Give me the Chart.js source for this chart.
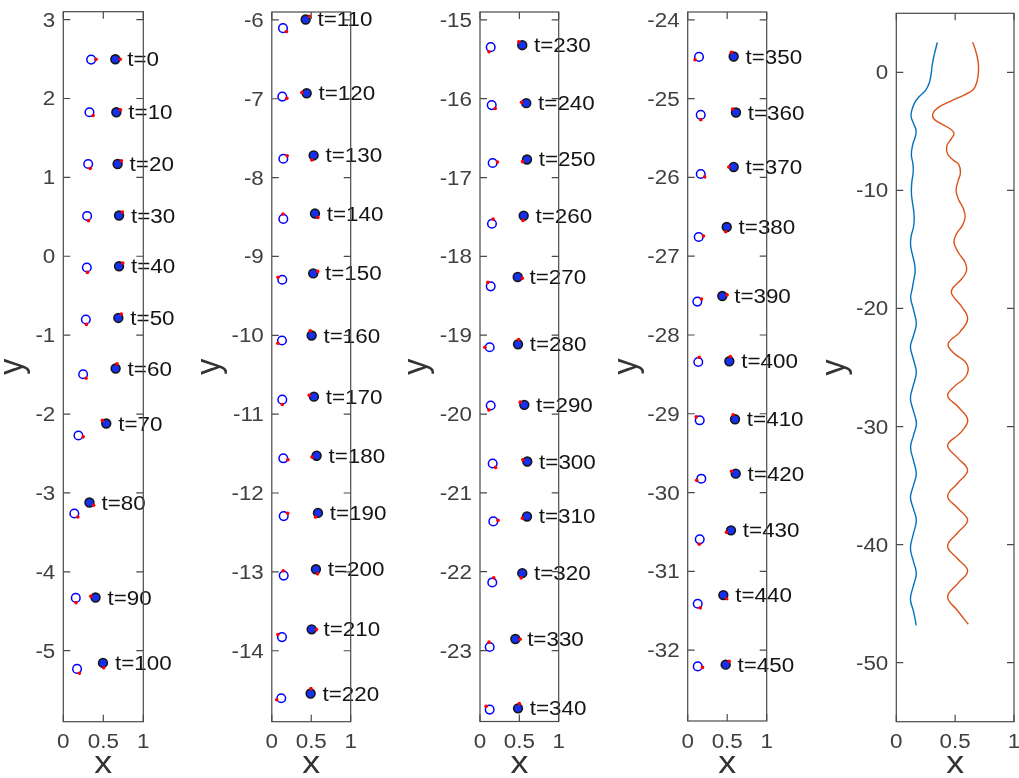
<!DOCTYPE html>
<html>
<head>
<meta charset="utf-8">
<title>Particle pair snapshots and trajectories</title>
<script src="https://cdn.jsdelivr.net/npm/chart.js@4.4.1/dist/chart.umd.min.js"></script>
<style>
  html, body { margin: 0; padding: 0; background: #ffffff; overflow: hidden; }
  #wrap { position: relative; width: 1019px; height: 778px; }
  #wrap canvas { position: absolute; left: 0; top: 0; }
</style>
</head>
<body>
<div id="wrap">
  <canvas id="snap1" width="1019" height="778"></canvas>
  <canvas id="snap2" width="1019" height="778"></canvas>
  <canvas id="snap3" width="1019" height="778"></canvas>
  <canvas id="snap4" width="1019" height="778"></canvas>
  <canvas id="trails" width="1019" height="778"></canvas>
</div>
<script>
// ---------- data ----------
const times = [0, 10, 20, 30, 40, 50, 60, 70, 80, 90, 100,
  110, 120, 130, 140, 150, 160, 170, 180, 190, 200, 210, 220,
  230, 240, 250, 260, 270, 280, 290, 300, 310, 320, 330, 340,
  350, 360, 370, 380, 390, 400, 410, 420, 430, 440, 450];

// hollow particle (left) centre and orientation marker angle (deg)
const hollowX = [0.348, 0.327, 0.311, 0.298, 0.294, 0.282, 0.248, 0.189, 0.138, 0.156, 0.172,
  0.142, 0.133, 0.146, 0.146, 0.133, 0.129, 0.133, 0.146, 0.151, 0.151, 0.129, 0.120,
  0.136, 0.149, 0.161, 0.152, 0.136, 0.123, 0.136, 0.161, 0.169, 0.156, 0.123, 0.123,
  0.143, 0.165, 0.165, 0.139, 0.122, 0.134, 0.152, 0.172, 0.152, 0.127, 0.127];
const hollowY = [2.493, 1.825, 1.170, 0.511, -0.143, -0.802, -1.496, -2.272, -3.261, -4.331, -5.231,
  -6.105, -6.973, -7.761, -8.524, -9.295, -10.066, -10.816, -11.560, -12.293, -13.047, -13.827, -14.602,
  -15.346, -16.081, -16.816, -17.586, -18.380, -19.153, -19.892, -20.627, -21.362, -22.136, -22.955, -23.749,
  -24.470, -25.206, -25.956, -26.756, -27.576, -28.343, -29.083, -29.824, -30.594, -31.411, -32.207];
const hollowAngle = [3, -42, -66, -74, -83, -83, -54, -16, -45, -87, -63,
  -45, -21, 37, 94, 150, -147, -90, -17, 35, 95, 147, -161,
  -110, -43, 12, 76, 126, 180, -113, -53, 12, 73, 98, 136,
  -145, -90, -37, 11, 33, 79, 136, -160, -95, -59, -12];

// solid particle (right) centre and orientation marker angle (deg)
const solidX = [0.650, 0.663, 0.679, 0.697, 0.697, 0.688, 0.654, 0.537, 0.327, 0.403, 0.496,
  0.429, 0.442, 0.530, 0.547, 0.525, 0.505, 0.534, 0.568, 0.585, 0.559, 0.505, 0.492,
  0.537, 0.588, 0.597, 0.555, 0.479, 0.483, 0.563, 0.601, 0.597, 0.537, 0.449, 0.483,
  0.582, 0.611, 0.582, 0.494, 0.438, 0.527, 0.599, 0.608, 0.548, 0.451, 0.481];
const solidY = [2.497, 1.825, 1.170, 0.516, -0.127, -0.782, -1.423, -2.120, -3.122, -4.326, -5.155,
  -5.995, -6.931, -7.719, -8.456, -9.215, -10.003, -10.778, -11.527, -12.252, -12.967, -13.729, -14.543,
  -15.321, -16.056, -16.771, -17.484, -18.261, -19.115, -19.883, -20.602, -21.299, -22.018, -22.854, -23.733,
  -24.465, -25.176, -25.867, -26.629, -27.505, -28.334, -29.070, -29.760, -30.480, -31.302, -32.185];
const solidAngle = [0, 32, 40, 47, 42, 53, 73, 141, -34, 166, -83,
  40, 172, -112, -53, 24, 107, 164, -164, -120, -70, -3, 86,
  135, 169, -154, -98, -15, 82, 147, 158, -158, -104, -3, 75,
  118, 133, 180, -102, 13, 78, 113, 150, -158, -47, 45];

// full trajectories
const trailHollowX = [0.348, 0.335, 0.318, 0.305, 0.295, 0.280, 0.250, 0.200, 0.160, 0.135, 0.125,
  0.145, 0.168, 0.160, 0.140, 0.128, 0.142, 0.143, 0.132, 0.128, 0.134, 0.146, 0.152, 0.146,
  0.126, 0.121, 0.136, 0.155, 0.160, 0.148, 0.134, 0.122, 0.146, 0.170, 0.146, 0.120, 0.145,
  0.170, 0.145, 0.120, 0.146, 0.171, 0.146, 0.121, 0.145, 0.170, 0.145, 0.120, 0.145, 0.170,
  0.145, 0.120, 0.145, 0.170, 0.145, 0.120, 0.147, 0.170];
const trailHollowY = [2.54, 2.0, 1.3, 0.6, -0.2, -0.9, -1.5, -2.0, -2.5, -3.1, -3.7,
  -4.3, -4.9, -5.5, -6.1, -7.0, -7.8, -8.5, -9.3, -10.1, -10.8, -11.6, -12.4, -13.1,
  -13.9, -14.6, -15.4, -16.2, -16.9, -17.6, -18.4, -19.1, -20.1, -21.3, -22.3, -23.25, -24.3,
  -25.4, -26.5, -27.6, -28.7, -29.75, -30.75, -31.75, -32.85, -34.0, -35.0, -36.0, -36.95, -37.95,
  -39.1, -40.3, -41.4, -42.45, -43.5, -44.6, -45.7, -46.85];
const trailSolidX = [0.649, 0.675, 0.695, 0.698, 0.685, 0.655, 0.580, 0.460, 0.360, 0.310, 0.320,
  0.380, 0.460, 0.490, 0.470, 0.430, 0.435, 0.480, 0.530, 0.545, 0.525, 0.508, 0.530, 0.568,
  0.585, 0.560, 0.510, 0.490, 0.530, 0.585, 0.597, 0.555, 0.478, 0.472, 0.560, 0.606, 0.540,
  0.440, 0.490, 0.585, 0.611, 0.580, 0.494, 0.436, 0.527, 0.607, 0.548, 0.436, 0.521, 0.606,
  0.521, 0.436, 0.521, 0.606, 0.521, 0.436, 0.521, 0.606, 0.521, 0.436, 0.521, 0.612];
const trailSolidY = [2.54, 1.8, 0.9, 0.0, -0.8, -1.45, -1.9, -2.45, -2.95, -3.5, -3.95,
  -4.35, -4.8, -5.15, -5.6, -6.2, -6.9, -7.4, -7.8, -8.5, -9.2, -10.0, -10.8, -11.5,
  -12.25, -13.0, -13.7, -14.4, -15.3, -16.1, -16.8, -17.5, -18.3, -18.8, -19.9, -20.9, -22.0,
  -23.0, -23.8, -24.5, -25.2, -25.9, -26.6, -27.4, -28.35, -29.45, -30.5, -31.6, -32.65, -33.7,
  -34.8, -35.9, -36.9, -37.94, -39.0, -40.14, -41.2, -42.23, -43.3, -44.44, -45.6, -46.75];

// snapshot panels: time span, y limits and y tick values
const panelFirstT = [0, 110, 230, 350];
const panelLastT = [100, 220, 340, 450];
const panelYMin = [-5.9, -14.9, -23.9, -32.9];
const panelYMax = [3.1, -5.9, -14.9, -23.9];
const panelYTicks = [
  [3, 2, 1, 0, -1, -2, -3, -4, -5],
  [-6, -7, -8, -9, -10, -11, -12, -13, -14],
  [-15, -16, -17, -18, -19, -20, -21, -22, -23],
  [-24, -25, -26, -27, -28, -29, -30, -31, -32]
];
const trailYMin = -55, trailYMax = 5;
const trailYTicks = [0, -10, -20, -30, -40, -50];
const xTickValues = [0, 0.5, 1];
const xTickLabels = ['0', '0.5', '1'];

// ---------- layout & style ----------
const W = 1019, H = 778;
const FONT = '"Liberation Sans", Arial, Helvetica, sans-serif';
const SX = 1.12;          // horizontal stretch applied to all text
const TICK = 7;           // inward tick length (px)
const MARK_R = 0.062;     // distance of orientation marker from centre (data units)
const LABEL_DX = 0.15;    // time label offset to the right of the solid particle (data units)
const boxes = [
  { l: 63.3, r: 143.3, t: 11.7, b: 721.7, ylab: 23 },
  { l: 271.8, r: 350.7, t: 12.0, b: 721.7, ylab: 220 },
  { l: 480.0, r: 558.7, t: 12.0, b: 721.5, ylab: 427 },
  { l: 687.7, r: 766.7, t: 12.0, b: 721.0, ylab: 637 },
  { l: 896.3, r: 1014.0, t: 13.3, b: 721.7, ylab: 845 }
];

function drawText(ctx, text, x, y, align, rotated) {
  ctx.save();
  ctx.translate(x, y);
  ctx.scale(SX, 1);
  if (rotated) ctx.rotate(-Math.PI / 2);
  ctx.textAlign = align;
  ctx.textBaseline = 'alphabetic';
  ctx.fillText(text, 0, 0);
  ctx.restore();
}

// Box, inward ticks, tick labels, axis titles and time labels
function axesDecor(box, yTicks, timeLabels) {
  return {
    id: 'axesDecor',
    afterDatasetsDraw(chart) {
      if (!timeLabels) return;
      const ctx = chart.ctx, xs = chart.scales.x, ys = chart.scales.y;
      ctx.save();
      ctx.fillStyle = '#141414';
      ctx.font = '20px ' + FONT;
      timeLabels.forEach(l => {
        drawText(ctx, l.text, xs.getPixelForValue(l.x + LABEL_DX), ys.getPixelForValue(l.y) + 7, 'left');
      });
      ctx.restore();
    },
    afterDraw(chart) {
      const ctx = chart.ctx, a = chart.chartArea, xs = chart.scales.x, ys = chart.scales.y;
      ctx.save();
      ctx.strokeStyle = '#4a4a4a';
      ctx.lineWidth = 1.2;
      ctx.strokeRect(a.left, a.top, a.right - a.left, a.bottom - a.top);
      ctx.beginPath();
      yTicks.forEach(v => {
        const y = ys.getPixelForValue(v);
        ctx.moveTo(a.left, y); ctx.lineTo(a.left + TICK, y);
        ctx.moveTo(a.right, y); ctx.lineTo(a.right - TICK, y);
      });
      xTickValues.forEach(v => {
        const x = xs.getPixelForValue(v);
        ctx.moveTo(x, a.top); ctx.lineTo(x, a.top + TICK);
        ctx.moveTo(x, a.bottom); ctx.lineTo(x, a.bottom - TICK);
      });
      ctx.stroke();

      ctx.fillStyle = '#404040';
      ctx.font = '20px ' + FONT;
      yTicks.forEach(v => {
        drawText(ctx, String(v), a.left - 8, ys.getPixelForValue(v) + 7, 'right');
      });
      xTickValues.forEach((v, i) => {
        drawText(ctx, xTickLabels[i], xs.getPixelForValue(v), a.bottom + 26.5, 'center');
      });

      ctx.fillStyle = '#333333';
      ctx.font = '32px ' + FONT;
      drawText(ctx, 'x', (a.left + a.right) / 2, 773, 'center');
      drawText(ctx, 'y', box.ylab, (a.top + a.bottom) / 2, 'center', true);
      ctx.restore();
    }
  };
}

function baseOptions(box, yMin, yMax) {
  return {
    responsive: false,
    animation: false,
    events: [],
    layout: { padding: { left: box.l, top: box.t, right: W - box.r, bottom: H - box.b } },
    scales: {
      x: { type: 'linear', min: 0, max: 1, display: false },
      y: { type: 'linear', min: yMin, max: yMax, display: false }
    },
    plugins: { legend: { display: false }, tooltip: { enabled: false } }
  };
}

function marker(cx, cy, deg) {
  const r = deg * Math.PI / 180;
  return { x: cx + MARK_R * Math.cos(r), y: cy + MARK_R * Math.sin(r) };
}

// ---------- snapshot panels ----------
panelFirstT.forEach((t0, p) => {
  const idx = times.map((t, i) => i).filter(i => times[i] >= t0 && times[i] <= panelLastT[p]);
  const hollow = idx.map(i => ({ x: hollowX[i], y: hollowY[i] }));
  const solid = idx.map(i => ({ x: solidX[i], y: solidY[i] }));
  const hollowMarks = idx.map(i => marker(hollowX[i], hollowY[i], hollowAngle[i]));
  const solidMarks = idx.map(i => marker(solidX[i], solidY[i], solidAngle[i]));
  const labels = idx.map(i => ({ x: solidX[i], y: solidY[i], text: 't=' + times[i] }));

  new Chart(document.getElementById('snap' + (p + 1)), {
    type: 'scatter',
    data: {
      datasets: [
        { data: hollowMarks, pointRadius: 1.8, pointBorderWidth: 0, backgroundColor: '#ff0000', borderColor: '#ff0000', order: 0 },
        { data: solidMarks, pointRadius: 1.8, pointBorderWidth: 0, backgroundColor: '#ff0000', borderColor: '#ff0000', order: 0 },
        { data: hollow, pointRadius: 4.3, pointBorderWidth: 1.5, backgroundColor: 'rgba(0,0,0,0)', borderColor: '#0000ff', order: 1 },
        { data: solid, pointRadius: 4.4, pointBorderWidth: 1.6, backgroundColor: '#1530ee', borderColor: '#161616', order: 1 }
      ]
    },
    options: baseOptions(boxes[p], panelYMin[p], panelYMax[p]),
    plugins: [axesDecor(boxes[p], panelYTicks[p], labels)]
  });
});

// ---------- trajectory panel ----------
const toPts = (xs, ys) => xs.map((x, i) => ({ x: x, y: ys[i] }));
new Chart(document.getElementById('trails'), {
  type: 'scatter',
  data: {
    datasets: [
      { data: toPts(trailHollowX, trailHollowY), showLine: true, tension: 0.4, pointRadius: 0, borderWidth: 1.4, borderColor: '#0072BD' },
      { data: toPts(trailSolidX, trailSolidY), showLine: true, tension: 0.4, pointRadius: 0, borderWidth: 1.4, borderColor: '#D95319' }
    ]
  },
  options: baseOptions(boxes[4], trailYMin, trailYMax),
  plugins: [axesDecor(boxes[4], trailYTicks, null)]
});
</script>
</body>
</html>
